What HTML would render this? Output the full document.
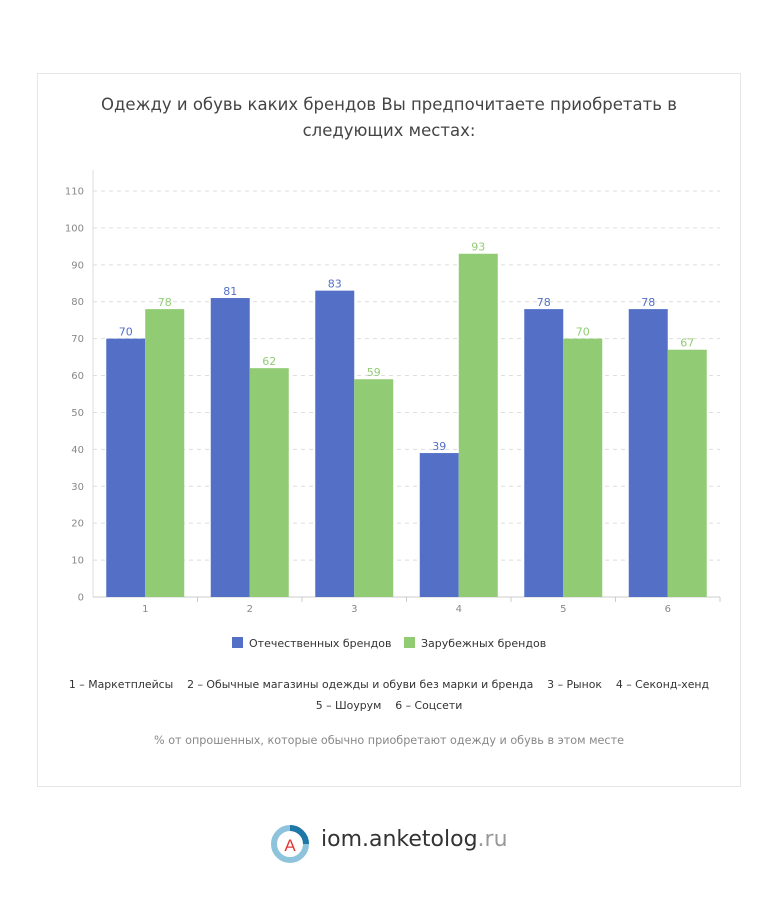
<!DOCTYPE html>
<html><head><meta charset="utf-8"><style>
body{margin:0;background:#fff;width:779px;height:900px;position:relative;font-family:"DejaVu Sans","Liberation Sans",sans-serif;overflow:hidden}
.card{position:absolute;left:37px;top:73px;width:704px;height:714px;border:1px solid #e6e6e6;box-sizing:border-box}
.title{position:absolute;left:37px;width:704px;top:92px;text-align:center;font-size:16.5px;line-height:26px;color:#444}
.leg{position:absolute;top:637px;font-size:11px;color:#333}
.sw{display:inline-block;width:11px;height:11px;vertical-align:-1px;margin-right:6px}
.notes{position:absolute;left:37px;width:704px;top:674px;text-align:center;font-size:10.9px;line-height:21px;color:#333}
.sub{position:absolute;left:37px;width:704px;top:734px;text-align:center;font-size:11.2px;color:#888}
.logo{position:absolute;left:268px;top:822px}
.brand{position:absolute;left:321px;top:827px;font-size:22px;color:#333}
</style></head><body>
<div class="card"></div>
<div class="title">Одежду и обувь каких брендов Вы предпочитаете приобретать в<br>следующих местах:</div>
<svg id="chart" width="779" height="900" style="position:absolute;left:0;top:0"></svg>
<div class="leg" style="left:232px"><span class="sw" style="background:#5470c6"></span>Отечественных брендов</div>
<div class="leg" style="left:404px"><span class="sw" style="background:#91cc75"></span>Зарубежных брендов</div>
<div class="notes">1 – Маркетплейсы &nbsp;&nbsp; 2 – Обычные магазины одежды и обуви без марки и бренда &nbsp;&nbsp; 3 – Рынок &nbsp;&nbsp; 4 – Секонд-хенд<br>5 – Шоурум &nbsp;&nbsp; 6 – Соцсети</div>
<div class="sub">% от опрошенных, которые обычно приобретают одежду и обувь в этом месте</div>
<svg class="logo" width="44" height="44" viewBox="0 0 44 44">
<circle cx="22" cy="22" r="16" fill="none" stroke="#8ec3dc" stroke-width="6"/>
<path d="M22 6 A16 16 0 0 1 38 22" fill="none" stroke="#1f77a8" stroke-width="6"/>
<circle cx="22" cy="22" r="11" fill="#fff"/>
<text x="22" y="29" text-anchor="middle" font-size="17" fill="#e53935" font-family="Liberation Sans,sans-serif">A</text>
</svg>
<div class="brand">iom.anketolog<span style="color:#999">.ru</span></div>
<script>
const categories=["1","2","3","4","5","6"];
const domestic=[70,81,83,39,78,78];
const foreign=[78,62,59,93,70,67];
const yTicks=[0,10,20,30,40,50,60,70,80,90,100,110];
const NS="http://www.w3.org/2000/svg";
const svg=document.getElementById('chart');
const x0=93,x1=720,y0=597,yTop=191;
const y=v=>y0-(v/110)*(y0-yTop);
const gw=(x1-x0)/categories.length;
function mk(t,a,txt){const e=document.createElementNS(NS,t);for(const k in a)e.setAttribute(k,a[k]);if(txt!=null)e.textContent=txt;svg.appendChild(e);return e;}
yTicks.forEach(v=>{
  if(v>0){const g=mk('line',{x1:x0,x2:x1,y1:y(v),y2:y(v),stroke:'#ddd','stroke-dasharray':'4,4'});
  
  }
  const t=mk('text',{x:x0-9,y:y(v)+3.5,'text-anchor':'end','font-size':10,fill:'#888'},v);
  
  
});
let ax=mk('line',{x1:x0,x2:x0,y1:170,y2:y0,stroke:'#ddd'});


ax=mk('line',{x1:x0,x2:x1,y1:y0,y2:y0,stroke:'#ccc'});


const bw=39;
categories.forEach((c,i)=>{
  const cx=x0+gw*(i+0.5);
  const tk=mk('line',{x1:x0+gw*(i+1),x2:x0+gw*(i+1),y1:y0,y2:y0+5,stroke:'#ccc'});
  
  
  const l=mk('text',{x:cx,y:y0+15,'text-anchor':'middle','font-size':10,fill:'#888'},c);
  
  
  [[domestic[i],cx-bw,'#5470c6'],[foreign[i],cx,'#91cc75']].forEach(([v,bx,col],j)=>{
    const r=mk('rect',{x:bx,y:y(v),width:bw,height:y0-y(v),fill:col});
    
    
    const t=mk('text',{x:bx+bw/2,y:y(v)-3,'text-anchor':'middle','font-size':11,fill:col},v);
    
    
  });
});
</script>
</body></html>
